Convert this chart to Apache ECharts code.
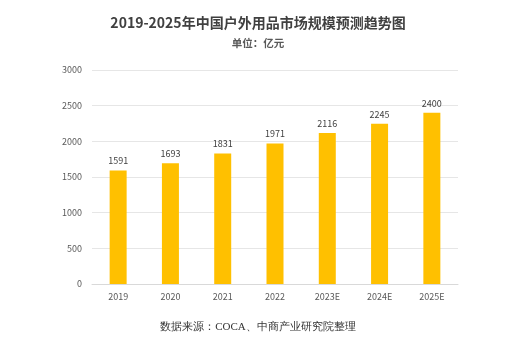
<!DOCTYPE html>
<html><head><meta charset="utf-8">
<script src="https://cdn.jsdelivr.net/npm/echarts@6/dist/echarts.min.js"></script>
<style>html,body{margin:0;padding:0;background:#fff}#c{width:516px;height:338px}</style>
</head><body><div id="c"></div>
<script>
const categories = ['2019','2020','2021','2022','2023E','2024E','2025E'];
const values = [1591,1693,1831,1971,2116,2245,2400];
const yTicks = {min:0,max:3000,interval:500};
const titleText = '2019-2025年中国户外用品市场规模预测趋势图';
const unitText = '单位：亿元';
const sourceText = '数据来源：COCA、中商产业研究院整理';

const chart = echarts.init(document.getElementById('c'), null, {renderer:'canvas'});
chart.setOption({
  animation:false,
  backgroundColor:'#fff',
  title:[
    {text:titleText,left:'center',top:11,textStyle:{fontFamily:'Noto Sans CJK SC',fontSize:14,fontWeight:'bold',color:'#404040'}},
    {text:unitText,left:'center',top:33,textStyle:{fontFamily:'Noto Sans CJK SC',fontSize:10.5,fontWeight:'bold',color:'#595959'}},
    {text:sourceText,left:'center',top:317,textStyle:{fontFamily:'serif',fontSize:11,fontWeight:'normal',color:'#333'}}
  ],
  grid:{left:92,right:58,top:70,bottom:54},
  xAxis:{type:'category',data:categories,axisTick:{show:false},
    axisLine:{lineStyle:{color:'#d9d9d9'}},
    axisLabel:{fontFamily:'Noto Sans CJK SC',fontSize:9,color:'#595959',margin:8}},
  yAxis:{type:'value',min:yTicks.min,max:yTicks.max,interval:yTicks.interval,
    axisLine:{show:false},axisTick:{show:false},
    splitLine:{lineStyle:{color:'#e6e6e6'}},
    axisLabel:{fontFamily:'Noto Sans CJK SC',fontSize:9,color:'#595959',margin:10,formatter:v=>String(v)}},
  series:[{type:'bar',data:values,barWidth:17,itemStyle:{color:'#FFC000'},
    label:{show:true,position:'top',distance:5,fontFamily:'Noto Sans CJK SC',fontSize:9,color:'#404040'}}]
});
</script></body></html>
